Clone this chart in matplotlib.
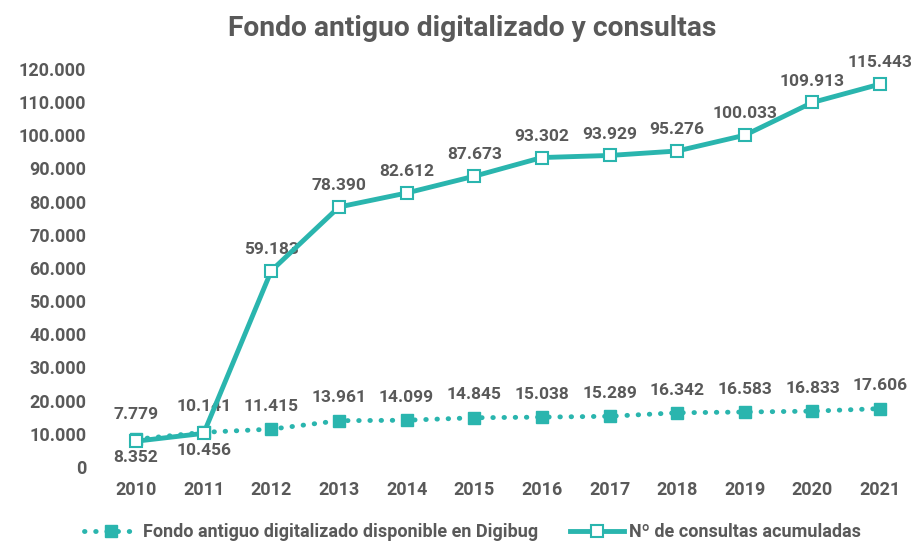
import numpy as np
import matplotlib.pyplot as plt
from matplotlib.lines import Line2D

anios = ['2010', '2011', '2012', '2013', '2014', '2015', '2016', '2017', '2018', '2019', '2020', '2021']
fondo = [8352, 10456, 11415, 13961, 14099, 14845, 15038, 15289, 16342, 16583, 16833, 17606]
consultas = [7779, 10141, 59183, 78390, 82612, 87673, 93302, 93929, 95276, 100033, 109913, 115443]

verde = '#2AB5AE'
gris = '#595959'

plt.rcParams['font.family'] = ['Roboto', 'DejaVu Sans']
plt.rcParams['font.weight'] = 'bold'

def fmt(v):
    return '{:,}'.format(v).replace(',', '.')

fig = plt.figure(figsize=(9.12, 5.42), dpi=100)
ax = fig.add_axes([0.1158, 0.1384, 0.8826, 0.7343])
x = np.arange(len(anios))

ax.plot(x, fondo, linestyle=(0, (0.1, 2.2)), dash_capstyle='round', color=verde, lw=3.5,
        marker='s', ms=9, mfc=verde, mec=verde, clip_on=False, zorder=3)
ax.plot(x, consultas, '-', color=verde, lw=3.5, marker='s', ms=9, mfc='white',
        mec=verde, mew=1.5, clip_on=False, zorder=4)

for i in range(len(anios)):
    # los dos primeros años: fondo debajo, consultas encima
    if i < 2:
        ax.annotate(fmt(fondo[i]), (x[i], fondo[i]), xytext=(0, -8), textcoords='offset points',
                    ha='center', va='top', fontsize=12.5, color=gris, fontweight='bold')
        ax.annotate(fmt(consultas[i]), (x[i], consultas[i]), xytext=(0, 14), textcoords='offset points',
                    ha='center', va='bottom', fontsize=12.5, color=gris, fontweight='bold')
    else:
        ax.annotate(fmt(fondo[i]), (x[i], fondo[i]), xytext=(0, 11), textcoords='offset points',
                    ha='center', va='bottom', fontsize=12.5, color=gris, fontweight='bold')
        ax.annotate(fmt(consultas[i]), (x[i], consultas[i]), xytext=(0, 10), textcoords='offset points',
                    ha='center', va='bottom', fontsize=12.5, color=gris, fontweight='bold')

ax.set_xlim(-0.45, 11.45)
ax.set_ylim(0, 120000)
ax.set_yticks(np.arange(0, 120001, 10000))
ax.set_yticklabels([fmt(v) for v in range(0, 120001, 10000)])
ax.set_xticks(x)
ax.set_xticklabels(anios)
ax.tick_params(length=0, labelsize=13, labelcolor=gris, pad=10)
ax.tick_params(axis='y', pad=14)
for lab in ax.get_xticklabels() + ax.get_yticklabels():
    lab.set_fontweight('bold')
for s in ax.spines.values():
    s.set_visible(False)

fig.text(0.518, 0.948, 'Fondo antiguo digitalizado y consultas', ha='center', va='center',
         fontsize=20.3, color=gris, fontweight='bold')

h1 = Line2D([], [], linestyle=(0, (0.1, 2.2)), dash_capstyle='round', color=verde, lw=3.5,
            marker='s', ms=9, mfc=verde, mec=verde)
h2 = Line2D([], [], linestyle='-', color=verde, lw=3.5, marker='s', ms=9, mfc='white',
            mec=verde, mew=1.5)
fig.legend([h1, h2], ['Fondo antiguo digitalizado disponible en Digibug', 'Nº de consultas acumuladas'],
           loc='center', bbox_to_anchor=(0.518, 0.018), ncol=2, frameon=False,
           prop={'size': 13, 'weight': 'bold'}, labelcolor=gris, columnspacing=1.8,
           handlelength=3.0, handletextpad=0.25)

fig.savefig('out.png', dpi=100)
